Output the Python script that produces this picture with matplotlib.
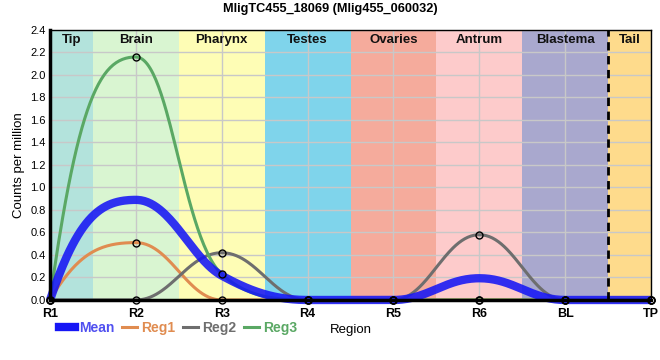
import numpy as np
import matplotlib
matplotlib.use("Agg")
from matplotlib import pyplot as plt
from matplotlib.lines import Line2D

plt.rcParams['font.family'] = ['Liberation Sans', 'DejaVu Sans']

# data
regions = ["R1", "R2", "R3", "R4", "R5", "R6", "BL", "TP"]
reg1 = [0, 0.51, 0, 0, 0, 0, 0, 0]
reg2 = [0, 0, 0.42, 0, 0, 0.58, 0, 0]
reg3 = [0, 2.16, 0.23, 0, 0, 0, 0, 0]
mean = list(np.mean([reg1, reg2, reg3], axis=0))

bands = ["Tip", "Brain", "Pharynx", "Testes", "Ovaries", "Antrum", "Blastema", "Tail"]
band_edges = [0, 0.5, 1.5, 2.5, 3.5, 4.5, 5.5, 6.5, 7]
band_colors = ["#b3e3dc", "#d9f5d1", "#fefdb5", "#7fd4eb", "#f5ab9c",
               "#fdcbcb", "#a9a8ce", "#fedb8c"]


def smooth_line(ax, xv, yv, steps=60):
    # spline drawn in screen space, flat at peaks / plateaus
    pts = ax.transData.transform(np.column_stack([xv, yv]).astype(float))
    n = len(pts)
    left = [None] * n
    right = [None] * n
    for i in range(1, n - 1):
        p, c, q = pts[i - 1], pts[i], pts[i + 1]
        if (c[1] - p[1]) * (q[1] - c[1]) <= 0:
            left[i] = c + [-0.4 * (c[0] - p[0]), 0]
            right[i] = c + [0.4 * (q[0] - c[0]), 0]
        else:
            dp = np.hypot(*(c - p))
            dq = np.hypot(*(q - c))
            sp, sq = np.sqrt(dp), np.sqrt(dq)
            right[i] = (c * (2 * dp + 3 * sp * sq + dq) - p * dq + q * dp) / (3 * sp * (sp + sq))
            left[i] = (c * (2 * dq + 3 * sp * sq + dp) + p * dq - q * dp) / (3 * sq * (sq + sp))
    right[0] = pts[0] + [(pts[1][0] - pts[0][0]) / 3, 0.85 * (pts[1][1] - pts[0][1])]
    left[-1] = pts[-1] + [-(pts[-1][0] - pts[-2][0]) / 3, 0.85 * (pts[-2][1] - pts[-1][1])]
    s = np.linspace(0, 1, steps)[:, None]
    out = []
    for i in range(n - 1):
        b = ((1 - s) ** 3 * pts[i] + 3 * (1 - s) ** 2 * s * right[i]
             + 3 * (1 - s) * s ** 2 * left[i + 1] + s ** 3 * pts[i + 1])
        out.append(b if i == 0 else b[1:])
    out = ax.transData.inverted().transform(np.vstack(out))
    return out[:, 0], out[:, 1]


fig = plt.figure(figsize=(6.6, 3.6), dpi=100)
ax = fig.add_axes([0.0758, 0.1667, 0.9106, 0.75])
xpos = np.arange(len(regions))
ax.set_xlim(0, len(regions) - 1)
ax.set_ylim(0, 2.4)

for i in range(len(bands)):
    ax.axvspan(band_edges[i], band_edges[i + 1], color=band_colors[i], zorder=0, lw=0)
    ax.text((band_edges[i] + band_edges[i + 1]) / 2, 2.31, bands[i], ha='center', va='center',
            fontsize=9.5, fontweight='bold', color='#111111', zorder=5)

ax.axvline(6.5, color='black', ls=(0, (3, 2)), lw=2, zorder=6)

series = [("Reg1", reg1, "#e08c50"), ("Reg2", reg2, "#6e6e6e"), ("Reg3", reg3, "#5aa864")]
for name, vals, col in series:
    sx, sy = smooth_line(ax, xpos, vals)
    ax.plot(sx, sy, color=col, lw=2.2, zorder=3)
sx, sy = smooth_line(ax, xpos, mean)
ax.plot(sx, sy, color="#1616f5", alpha=0.88, lw=6, zorder=4, clip_on=False,
        solid_capstyle='butt')
for name, vals, col in series:
    ax.plot(xpos, vals, ls='none', marker='o', ms=5, mfc='none', mec='black', mew=1,
            zorder=7, clip_on=False)

ax.set_yticks(np.arange(0, 2.41, 0.2))
ax.set_yticklabels([f"{v:.1f}" for v in np.arange(0, 2.41, 0.2)], fontsize=8)
ax.set_xticks(xpos)
ax.set_xticklabels(regions, fontsize=9, fontweight='bold')
ax.tick_params(length=0, pad=3)
ax.tick_params(axis='x', pad=6)
ax.grid(True, color='#c8c8c8', lw=1)
for g in ax.get_xgridlines() + ax.get_ygridlines():
    g.set_zorder(1)
ax.spines['left'].set_linewidth(2.5)
ax.spines['bottom'].set_linewidth(2.5)
ax.spines['top'].set_linewidth(1)
ax.spines['right'].set_linewidth(1)
for sp in ax.spines.values():
    sp.set_zorder(6)
ax.set_ylabel("Counts per million", fontsize=9.5)
ax.set_xlabel("Region", fontsize=9.5, labelpad=3)
fig.text(0.5, 0.975, "MligTC455_18069 (Mlig455_060032)", ha='center', va='center',
         fontsize=9.2, fontweight='bold')

handles = [Line2D([], [], color="#1616f5", lw=6)] + \
          [Line2D([], [], color=c, lw=2.2) for _, _, c in series]
labels = ["Mean", "Reg1", "Reg2", "Reg3"]
leg = fig.legend(handles, labels, loc='center left', bbox_to_anchor=(0.09, 0.09), ncol=4,
                 frameon=False, fontsize=10, handlelength=1.1, handletextpad=0.3,
                 columnspacing=0.55, borderpad=0, borderaxespad=0,
                 labelcolor=["#5050f0", "#e08c50", "#6e6e6e", "#5aa864"])
for t in leg.get_texts():
    t.set_fontweight('bold')

fig.savefig("out.png", dpi=100)
